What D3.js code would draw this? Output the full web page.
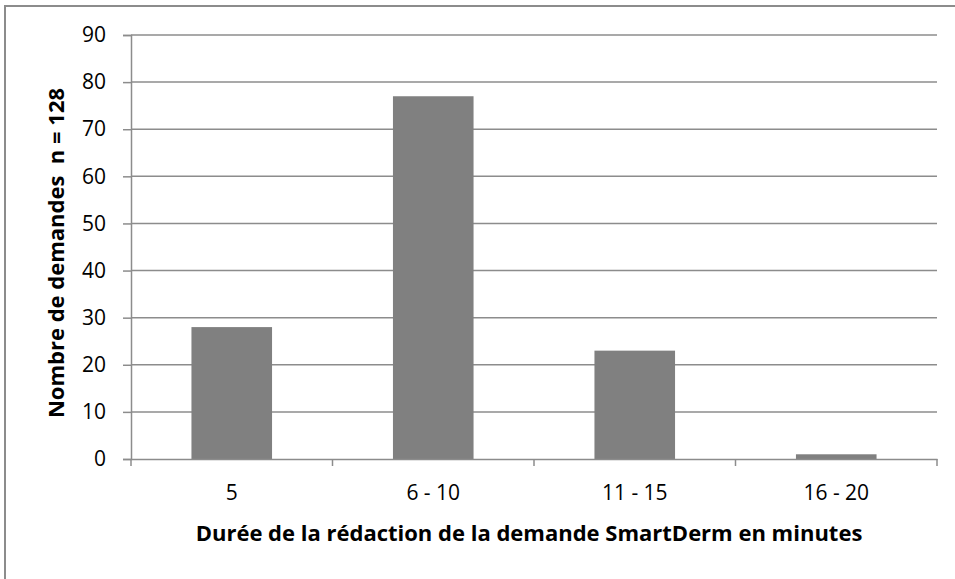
<!DOCTYPE html>
<html><head><meta charset="utf-8">
<script src="https://cdn.jsdelivr.net/npm/d3@7"></script>
<style>body{margin:0;background:#fff}svg{display:block}</style>
</head><body>
<svg id="c" width="955" height="579"></svg>
<script>
const categories = ["5", "6 - 10", "11 - 15", "16 - 20"];
const values = [28, 77, 23, 1];
const yTicks = [0,10,20,30,40,50,60,70,80,90];
const xTitle = "Durée de la rédaction de la demande SmartDerm en minutes";
const yTitle = "Nombre de demandes  n = 128";

const svg = d3.select("#c");
const font = "'Open Sans', sans-serif";
const mLeft = 131, mRight = 937, mTop = 35, mBottom = 459;
const grid = "#8c8c8c";

svg.append("rect").attr("x",5).attr("y",6).attr("width",960).attr("height",600)
  .attr("fill","#fff").attr("stroke","#8c8c8c").attr("stroke-width",2);

const x = d3.scaleBand().domain(categories).range([mLeft,mRight]).paddingInner(0.6).paddingOuter(0.3);
const xc = d3.scaleBand().domain(categories).range([mLeft,mRight]);
const y = d3.scaleLinear().domain([0,90]).range([mBottom,mTop]);

// gridlines
svg.append("g").selectAll("line").data(yTicks.filter(d=>d>0)).join("line")
  .attr("x1",mLeft).attr("x2",mRight).attr("y1",d=>y(d)).attr("y2",d=>y(d))
  .attr("stroke",grid).attr("stroke-width",1.5);

// bars
svg.append("g").selectAll("rect").data(values).join("rect")
  .attr("x",(d,i)=>x(categories[i])).attr("width",x.bandwidth())
  .attr("y",d=>y(d)).attr("height",d=>y(0)-y(d)).attr("fill","#808080");

// y axis
const ya = svg.append("g").attr("transform",`translate(${mLeft},0)`)
  .call(d3.axisLeft(y).tickValues(yTicks).tickSize(8).tickPadding(17));
ya.select(".domain").attr("stroke",grid).attr("stroke-width",1.5);
ya.selectAll(".tick line").attr("stroke",grid).attr("stroke-width",1.5);
ya.selectAll("text").attr("font-family",font).attr("font-size",21).attr("fill","#000");

// x axis
const xa = svg.append("g").attr("transform",`translate(0,${mBottom})`)
  .call(d3.axisBottom(xc).tickSize(0).tickPadding(26));
xa.select(".domain").attr("stroke",grid).attr("stroke-width",1.5);
xa.selectAll("text").attr("font-family",font).attr("font-size",21).attr("fill","#000");
const bounds = categories.map(c=>xc(c)).concat([mRight]);
svg.append("g").selectAll("line").data(bounds).join("line")
  .attr("x1",d=>d).attr("x2",d=>d).attr("y1",mBottom).attr("y2",mBottom+7)
  .attr("stroke",grid).attr("stroke-width",1.5);

svg.append("text").attr("x",529).attr("y",541).attr("text-anchor","middle")
  .attr("font-family",font).attr("font-weight","bold").attr("font-size",22).text(xTitle);
svg.append("text").attr("transform","translate(64,253) rotate(-90)").attr("text-anchor","middle")
  .attr("font-family",font).attr("font-weight","bold").attr("font-size",22)
  .attr("xml:space","preserve").style("white-space","pre").text(yTitle);
</script>
</body></html>
